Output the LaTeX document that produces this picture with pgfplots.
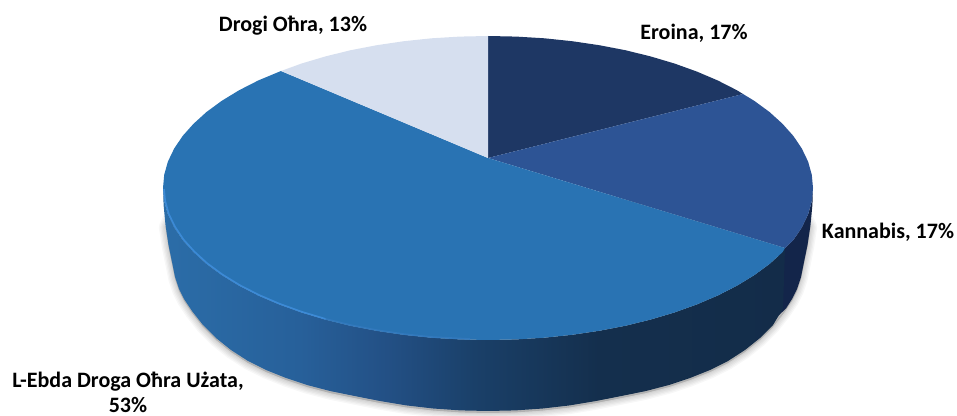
\documentclass[border=0pt]{standalone}
\usepackage{pgfplots}
\usepackage{pgfplotstable}
\usepackage{fontspec}
\setmainfont{Carlito}
\pgfplotsset{compat=1.18}
\definecolor{eroina}{HTML}{1E3764}
\definecolor{kann}{HTML}{2D5495}
\definecolor{ebda}{HTML}{2973B3}
\definecolor{drogi}{HTML}{D6DFEF}
\definecolor{sidek}{HTML}{13254A}
\definecolor{rim}{HTML}{3C8AD6}
\definecolor{rimb}{HTML}{3279BD}
\definecolor{sa}{HTML}{2B6DA8}
\definecolor{sb}{HTML}{27609A}
\definecolor{sbb}{HTML}{235085}
\definecolor{sc}{HTML}{1A4069}
\definecolor{sd}{HTML}{142F4D}
\definecolor{se}{HTML}{132C49}
\pgfdeclarehorizontalshading{sideshade}{100bp}{color(0bp)=(sa); color(25bp)=(sa); color(36bp)=(sb); color(43bp)=(sbb); color(50bp)=(sc); color(60bp)=(sd); color(75bp)=(se); color(100bp)=(se)}
\pgfplotstableread{
x y
178 198
165.5 225
168.5 245
172 262
175 277
179 289
184 299
192 311
203 325
216 338
231 350
248 361
266 370
286 378
307 385
330 391
354.5 396
379.9 401
406.2 405.4
433.1 408.5
460.4 410.4
488 411
515.6 410.4
542.9 408.5
569.8 405.4
596.1 401
621.5 396
646 391
669 385
690 378
710 370
728 361
745 350
760 338
773 325
784 311
792 299
797 289
801 277
804 262
807.5 245
810.5 225
798 198
}\silhouette
\begin{document}
\begin{tikzpicture}
\useasboundingbox (0,0) rectangle (717.75pt,312pt);
\begin{axis}[at={(0,0)},anchor=south west,scale only axis,width=717.75pt,height=312pt,
  xmin=0,xmax=957,ymin=0,ymax=416,y dir=reverse,hide axis,clip=false]
% soft shadow
\addplot[draw=black,fill=black,opacity=0.03,line width=10pt,line join=round,yshift=-1.5pt] table {\silhouette} -- cycle;
\addplot[draw=black,fill=black,opacity=0.03,line width=8pt,line join=round,yshift=-1.5pt] table {\silhouette} -- cycle;
\addplot[draw=black,fill=black,opacity=0.04,line width=6pt,line join=round,yshift=-1.5pt] table {\silhouette} -- cycle;
\addplot[draw=black,fill=black,opacity=0.04,line width=4pt,line join=round,yshift=-1.5pt] table {\silhouette} -- cycle;
\addplot[draw=black,fill=black,opacity=0.04,line width=2pt,line join=round,yshift=-1.5pt] table {\silhouette} -- cycle;
% side of Kannabis
\addplot[draw=none,fill=sidek] coordinates {
(778,250)(785,248)(793.4,240)(801.9,227.3)(808.1,214.4)(811.8,201.2)(813,188)(812.4,205)(810.5,225)(807.5,245)(804,262)(801,277)(797,289)(792,299)(786,308.5)(779,315)
} -- cycle;
% side of L-Ebda
\addplot[draw=none,shade,shading=sideshade] coordinates {
(163,188)(164.2,201.2)(167.9,214.4)(174.1,227.3)(182.6,240)(193.5,252.2)(206.5,264)(221.8,275.2)(239,285.7)(258.2,295.5)(279.1,304.4)(301.6,312.5)(325.5,319.6)(350.7,325.8)(376.8,330.8)(403.9,334.8)(431.6,337.7)(459.7,339.4)(488,340)(516.3,339.4)(544.4,337.7)(572.1,334.8)(599.2,330.8)(625.3,325.8)(650.5,319.6)(674.4,312.5)(696.9,304.4)(717.8,295.5)(737,285.7)(754.2,275.2)(769.5,264)(782.5,252.2)(785,248)
(783,308.5)(773,325)(760,338)(745,350)(728,361)(710,370)(690,378)(669,385)(646,391)(621.5,396)(596.1,401)(569.8,405.4)(542.9,408.5)(515.6,410.4)(488,411)(460.4,410.4)(433.1,408.5)(406.2,405.4)(379.9,401)(354.5,396)(330,391)(307,385)(286,378)(266,370)(248,361)(231,350)(216,338)(203,325)(192,311)(184,299)(179,289)(175,277)(172,262)(168.5,245)(165.5,225)(163.6,205)(163,188)
} -- cycle;
% Eroina 17
\addplot[draw=none,fill=eroina] coordinates {
(488,158)(488,36)(516.3,36.6)(544.4,38.3)(572.1,41.2)(599.2,45.2)(625.3,50.2)(650.5,56.4)(674.4,63.5)(696.9,71.6)(717.8,80.5)(737,90.3)(743,94)
} -- cycle;
% Kannabis 17
\addplot[draw=none,fill=kann] coordinates {
(488,158)(743,94)(754.2,100.8)(769.5,112)(782.5,123.8)(793.4,136)(801.9,148.7)(808.1,161.6)(811.8,174.8)(813,188)(811.8,201.2)(808.1,214.4)(801.9,227.3)(793.4,240)(785,248)
} -- cycle;
% L-Ebda Droga 53
\addplot[draw=none,fill=ebda] coordinates {
(488,158)(785,248)(782.5,252.2)(769.5,264)(754.2,275.2)(737,285.7)(717.8,295.5)(696.9,304.4)(674.4,312.5)(650.5,319.6)(625.3,325.8)(599.2,330.8)(572.1,334.8)(544.4,337.7)(516.3,339.4)(488,340)(459.7,339.4)(431.6,337.7)(403.9,334.8)(376.8,330.8)(350.7,325.8)(325.5,319.6)(301.6,312.5)(279.1,304.4)(258.2,295.5)(239,285.7)(221.8,275.2)(206.5,264)(193.5,252.2)(182.6,240)(174.1,227.3)(167.9,214.4)(164.2,201.2)(163,188)(164.2,174.8)(167.9,161.6)(174.1,148.7)(182.6,136)(193.5,123.8)(206.5,112)(221.8,100.8)(239,90.3)(258.2,80.5)(281,71)
} -- cycle;
% Drogi Ohra 13
\addplot[draw=none,fill=drogi] coordinates {
(488,158)(281,71)(301.6,63.5)(325.5,56.4)(350.7,50.2)(376.8,45.2)(403.9,41.2)(431.6,38.3)(459.7,36.6)(488,36)
} -- cycle;
% rim highlight
\addplot[draw=rimb,line width=1.2pt,no marks] coordinates {
(470,339)(431.6,337)(403.9,334.1)(376.8,330.1)(350.7,325.1)(325.5,318.9)
};
\addplot[draw=rim,line width=1.2pt,no marks] coordinates {
(325.5,318.9)(301.8,311.8)(279.4,303.7)(258.6,294.8)(239.5,285)(222.4,274.5)(207.2,263.3)(194.3,251.5)(183.4,239.4)(175,226.8)(168.8,214)(165.2,201)(164,189)
};
\node[font=\bfseries\fontsize{16.5}{18}\selectfont] at (axis cs:293,26) {Drogi Oħra, 13\%};
\node[font=\bfseries\fontsize{16.5}{18}\selectfont] at (axis cs:694,33) {Eroina, 17\%};
\node[font=\bfseries\fontsize{16.5}{18}\selectfont] at (axis cs:888,232) {Kannabis, 17\%};
\node[font=\bfseries\fontsize{16.5}{18}\selectfont] at (axis cs:128,382) {L-Ebda Droga Oħra Użata,};
\node[font=\bfseries\fontsize{16.5}{18}\selectfont,inner sep=0pt] at (axis cs:128,405) {53\%};
\end{axis}
\end{tikzpicture}
\end{document}
